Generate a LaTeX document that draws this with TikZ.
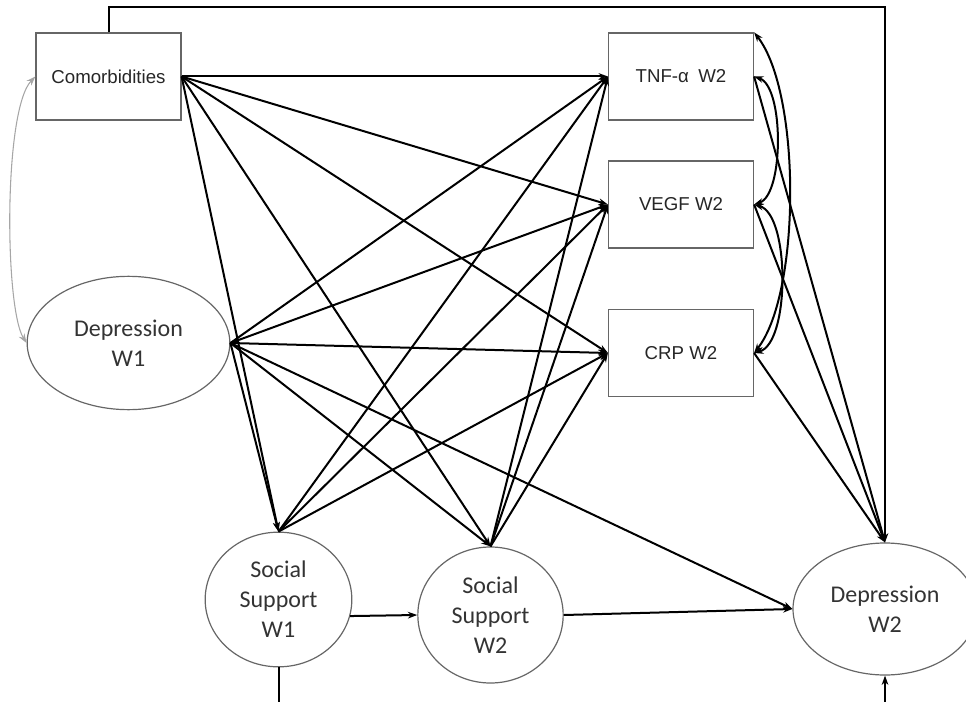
\documentclass[tikz,border=0pt]{standalone}
\usepackage{fontspec}
\setmainfont{Liberation Sans}
\newfontfamily\carlito{Carlito}
\usepackage{tikz}
\usetikzlibrary{calc,positioning,arrows,shapes}
\usetikzlibrary{arrows.meta}
\tikzset{
	->,
	>={Stealth[length=7pt,width=5pt]},
	box/.style={rectangle, draw=black!60, line width=0.9pt, minimum width=108.75pt, minimum height=65.25pt, inner sep=0pt, text=black!85, font=\fontsize{14}{16}\selectfont},
	latent/.style={ellipse, draw=black!60, line width=0.9pt, inner sep=0pt, align=center, text=black!80, font=\carlito\fontsize{18}{22.5}\selectfont},
}

\begin{document}
\begin{tikzpicture}[x=0.75pt, y=-0.75pt, line width=1.5pt]
		\clip (0,0) rectangle (966,702);
		\node[box] (com) at (108.5,76.5) {Comorbidities};
		\node[box] (tnf) at (681,76.5) {TNF-α\enspace W2};
		\node[box] (vegf) at (681,204.5) {VEGF W2};
		\node[box] (crp) at (681,353) {CRP W2};
		\node[latent, minimum width=152pt, minimum height=100pt] (dep1) at (128.5,343) {Depression\\W1};
		\node[latent, minimum width=110pt, minimum height=101pt] (ss1) at (278.5,599.5) {Social\\Support\\W1};
		\node[latent, minimum width=109pt, minimum height=102pt] (ss2) at (490.5,615) {Social\\Support\\W2};
		\node[latent, minimum width=138pt, minimum height=99pt] (dep2) at (885,609) {Depression\\W2};
		\coordinate (e1) at (278.5,702);
		\coordinate (e2) at (885,702);

		\draw (com.east) edge (tnf.west)
		(com.east) edge (vegf.west)
		(com.east) edge (crp.west)
		(com.east) edge (ss1.north)
		(com.east) edge (ss2.north)
		(dep1.east) edge (tnf.west)
		(dep1.east) edge (vegf.west)
		(dep1.east) edge (crp.west)
		(dep1.east) edge (ss1.north)
		(dep1.east) edge (ss2.north)
		(dep1.east) edge (dep2.west)
		(ss1.north) edge (tnf.west)
		(ss1.north) edge (vegf.west)
		(ss1.north) edge (crp.west)
		(ss2.north) edge (tnf.west)
		(ss2.north) edge (vegf.west)
		(ss2.north) edge (crp.west)
		(ss1.-13) edge (ss2.west)
		(ss2.east) edge (dep2.west)
		(tnf.east) edge (dep2.north)
		(vegf.east) edge (dep2.north)
		(crp.east) edge (dep2.north)
		(e2) edge (dep2.south);
		\draw (com.north) -- ++(0,-25) -| (dep2.north);
		\draw[-] (e1) -- (ss1.south);

		% covariances
		\draw[<->] (tnf.east) .. controls +(30,10) and +(30,-10) .. (vegf.east);
		\draw[<->] (vegf.east) .. controls +(36,10) and +(36,-10) .. (crp.east);
		\draw[<->] (tnf.north east) .. controls +(47,60) and +(47,-60) .. (crp.east);
		\draw[<->, black!35, line width=0.8pt] (com.west) .. controls +(-32,33) and +(-22,-35) .. (dep1.west);
	\end{tikzpicture}
\end{document}
